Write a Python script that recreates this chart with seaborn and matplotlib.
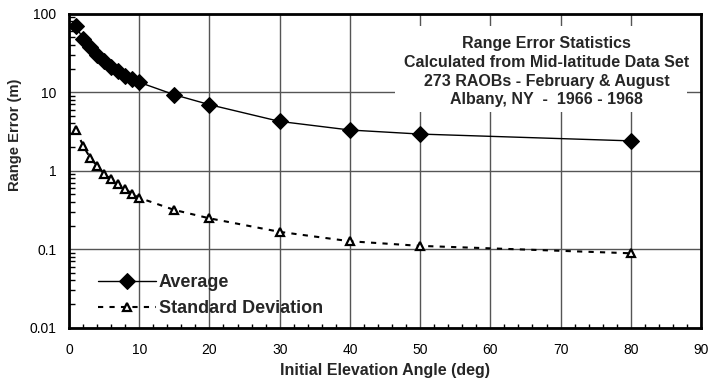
import matplotlib
matplotlib.use('Agg')
import matplotlib.pyplot as plt
import seaborn as sns
from matplotlib.patches import Rectangle
from matplotlib.ticker import MultipleLocator, LogLocator, NullFormatter, FixedFormatter, FixedLocator

# data
angle = [1, 2, 3, 4, 5, 6, 7, 8, 9, 10, 15, 20, 30, 40, 50, 80]
average = [70, 48, 37.8, 30.1, 25, 21.3, 18.4, 15.9, 14.7, 13.4, 9.3, 6.95, 4.25, 3.3, 2.93, 2.4]
std_dev = [3.35, 2.09, 1.47, 1.15, 0.915, 0.773, 0.667, 0.586, 0.507, 0.451,
           0.316, 0.247, 0.166, 0.126, 0.11, 0.0885]
y_ticks = [0.01, 0.1, 1, 10, 100]
y_labels = ['0.01', '0.1', '1', '10', '100']
title_lines = ['Range Error Statistics',
               'Calculated from Mid-latitude Data Set',
               '273 RAOBs - February & August',
               'Albany, NY  -  1966 - 1968']

sns.set_style('white')
plt.rcParams['font.family'] = ['Liberation Sans', 'DejaVu Sans']

fig, ax = plt.subplots(figsize=(7.11, 3.84), dpi=100)
fig.subplots_adjust(left=0.097, right=0.986, top=0.964, bottom=0.147)

sns.lineplot(x=angle, y=average, ax=ax, color='black', lw=1, marker='D',
             markersize=8, markeredgecolor='black', label='Average', zorder=5)
sns.lineplot(x=angle, y=std_dev, ax=ax, color='black', lw=1.5, linestyle=(0, (2.5, 3)),
             marker='^', markersize=6, markerfacecolor='white', markeredgecolor='black',
             markeredgewidth=1.6, label='Standard Deviation', zorder=5)

ax.set_yscale('log')
ax.set_xlim(0, 90)
ax.set_ylim(0.01, 100)

ax.xaxis.set_major_locator(MultipleLocator(10))
ax.xaxis.set_minor_locator(MultipleLocator(2))
ax.yaxis.set_major_locator(FixedLocator(y_ticks))
ax.yaxis.set_major_formatter(FixedFormatter(y_labels))
ax.yaxis.set_minor_locator(LogLocator(base=10, subs=range(2, 10)))
ax.yaxis.set_minor_formatter(NullFormatter())

ax.tick_params(which='both', direction='in', labelsize=10, colors='black')
ax.tick_params(axis='x', which='major', length=0, pad=11)
ax.tick_params(axis='y', which='major', length=0, pad=9)
ax.tick_params(axis='x', which='minor', length=3, width=1, bottom=True)
ax.tick_params(axis='y', which='minor', length=4, width=1, left=True)

ax.set_axisbelow(True)
ax.grid(which='major', color='#555555', lw=1)
for s in ax.spines.values():
    s.set_color('black')
    s.set_linewidth(2)
    s.set_zorder(6)

ax.set_xlabel('Initial Elevation Angle (deg)', fontsize=11.5, fontweight='bold')
ax.xaxis.set_label_coords(0.5, -0.113)
ax.set_ylabel('Range Error (m)', fontsize=10.6, fontweight='bold')
ax.yaxis.set_label_coords(-0.075, 0.614)

# white box behind the annotation that hides the grid
ax.add_patch(Rectangle((0.516, 0.688), 0.462, 0.274, transform=ax.transAxes,
                       facecolor='white', edgecolor='none', zorder=1))
ax.text(0.7555, 0.815, '\n'.join(title_lines), transform=ax.transAxes, ha='center', va='center',
        fontsize=11.5, fontweight='bold', linespacing=1.3, zorder=4)

ax.legend(loc='lower left', bbox_to_anchor=(0.035, 0.01), frameon=False, handlelength=3.2,
          handletextpad=0.15, labelspacing=0.5, borderaxespad=0,
          prop={'weight': 'bold', 'size': 13})

fig.savefig('out.png', dpi=100)
